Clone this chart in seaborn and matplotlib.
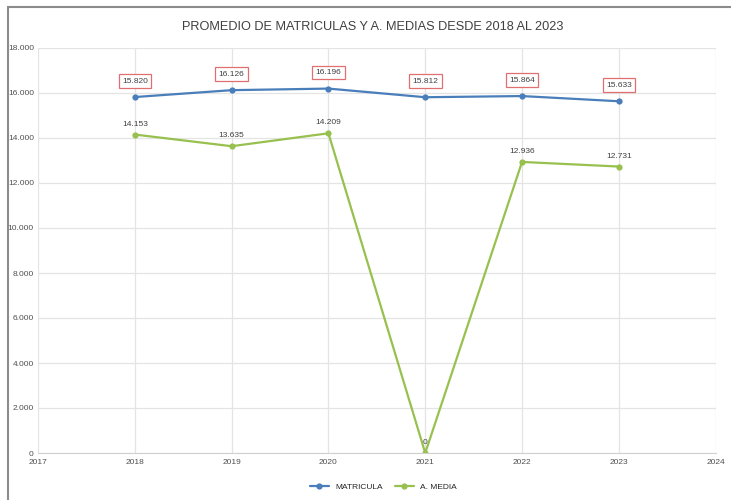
import numpy as np
import pandas as pd
import matplotlib
matplotlib.use("Agg")
import matplotlib.pyplot as plt
import seaborn as sns

# data
years = [2018, 2019, 2020, 2021, 2022, 2023]
matricula = [15820, 16126, 16196, 15812, 15864, 15633]
a_media = [14153, 13635, 14209, 0, 12936, 12731]
yticks = [0, 2000, 4000, 6000, 8000, 10000, 12000, 14000, 16000, 18000]
xticks = [2017, 2018, 2019, 2020, 2021, 2022, 2023, 2024]

def fmt(v):
    return f"{v:,}".replace(",", ".")

sns.set_style("whitegrid")
plt.rcParams["font.family"] = ["Liberation Sans", "DejaVu Sans"]

df = pd.DataFrame({"year": years * 2,
                   "valor": matricula + a_media,
                   "serie": ["MATRICULA"] * 6 + ["A. MEDIA"] * 6})

fig = plt.figure(figsize=(7.31, 5.0), dpi=100)
ax = fig.add_axes([0.052, 0.094, 0.927, 0.81])

blue = "#4A7EBB"
green = "#98C04F"
sns.lineplot(data=df, x="year", y="valor", hue="serie",
             palette={"MATRICULA": blue, "A. MEDIA": green},
             marker="o", markersize=4.5, markeredgewidth=0, linewidth=1.6, ax=ax)

ax.set_xlim(2017, 2024)
ax.set_ylim(0, 18000)
ax.set_xticks(xticks)
ax.set_yticks(yticks)
ax.set_yticklabels([fmt(v) for v in yticks])
ax.tick_params(labelsize=6, colors="#505050", length=0, pad=4)
ax.tick_params(axis="y", pad=3)
ax.grid(color="#E4E4E4", linewidth=0.9)
for s in ["top", "right", "left"]:
    ax.spines[s].set_visible(False)
ax.spines["bottom"].set_color("#D0D0D0")
ax.set_xlabel("")
ax.set_ylabel("")

# labels for matricula, boxed in red
for x, v in zip(years, matricula):
    ax.annotate(fmt(v), (x, v), xytext=(0, 9), textcoords="offset points",
                ha="center", va="bottom", fontsize=6, color="#404040",
                bbox=dict(boxstyle="square,pad=0.4", fc="white", ec="#E07070", lw=0.9))

# labels for a. media
for x, v in zip(years, a_media):
    ax.annotate(fmt(v), (x, v), xytext=(0, 5), textcoords="offset points",
                ha="center", va="bottom", fontsize=6, color="#404040")

fig.suptitle("PROMEDIO DE MATRICULAS Y A. MEDIAS DESDE 2018 AL 2023",
             x=0.51, y=0.957, fontsize=9.2, color="#404040")

handles, labels = ax.get_legend_handles_labels()
ax.legend(handles, labels, loc="upper center", bbox_to_anchor=(0.51, -0.055),
          ncol=2, frameon=False, fontsize=6, handlelength=2.2, columnspacing=1.5)

# outer chart border
fig.patches.append(plt.Rectangle((8 / 731, -0.01), 1.0, 1.0 - 7 / 500 + 0.01,
                                 transform=fig.transFigure, fill=False,
                                 ec="#8C8C8C", lw=1.5))

fig.savefig("out.png", dpi=100)
